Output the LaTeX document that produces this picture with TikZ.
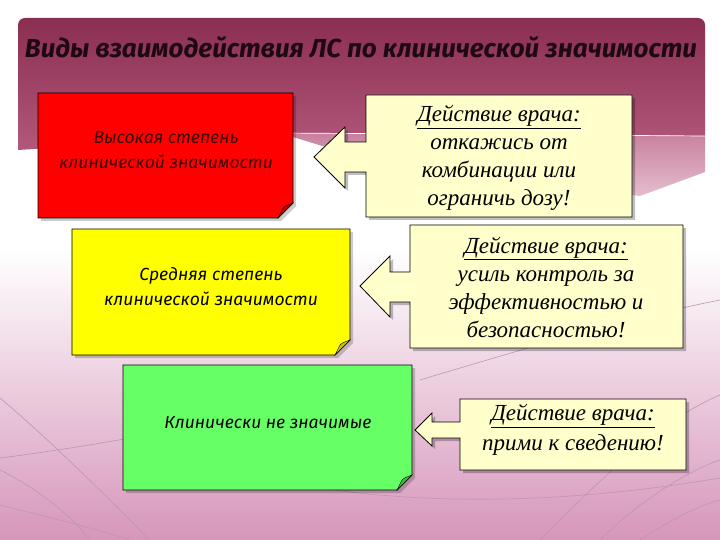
\documentclass[tikz,border=0pt]{standalone}
\usepackage{fontspec}
\setmainfont{Liberation Serif}
\newfontfamily\sansf{Fira Sans}
\usetikzlibrary{calc}
\definecolor{maroonA}{RGB}{138,46,82}
\definecolor{maroonB}{RGB}{178,88,122}
\definecolor{faceA}{RGB}{200,128,158}
\definecolor{faceB}{RGB}{228,190,206}
\definecolor{bgpink}{RGB}{214,150,186}
\definecolor{curveC}{RGB}{190,150,175}
\definecolor{calloutfill}{RGB}{255,255,204}
\definecolor{redbox}{RGB}{255,0,0}
\definecolor{redfold}{RGB}{190,0,0}
\definecolor{yelbox}{RGB}{255,255,0}
\definecolor{yelfold}{RGB}{200,200,0}
\definecolor{grnbox}{RGB}{102,255,102}
\definecolor{grnfold}{RGB}{60,190,60}
\definecolor{titlecol}{RGB}{30,8,18}
\tikzset{
  calloutshape/.style={fill=calloutfill, draw=black, line width=0.8pt, line join=miter},
  calloutshadow/.style={fill=black, opacity=0.25},
  ctext/.style={align=center, font=\itshape\fontsize{23}{28}\selectfont, text=black, inner sep=0pt},
  btext/.style={align=center, font=\sansf\itshape\fontsize{17.5}{25}\selectfont, inner sep=0pt},
  titletext/.style={font=\sansf\bfseries\itshape\fontsize{26}{28}\selectfont, text=titlecol, inner sep=0pt},
  bgcurve/.style={draw=curveC, line width=0.6pt},
}
\newcommand\notebox[6]{%
  \fill[black, opacity=0.2] (#1+3,#2+3) -- (#3+3,#2+3) -- (#3+3,#4+3-15) -- (#3+3-15,#4+3) -- (#1+3,#4+3) -- cycle;
  \filldraw[fill=#5, draw=black, line width=0.8pt] (#1,#2) -- (#3,#2) -- (#3,#4-15) -- (#3-15,#4) -- (#1,#4) -- cycle;
  \filldraw[fill=#6, draw=black, line width=0.4pt] (#3,#4-15) .. controls (#3-5,#4-13) and (#3-10,#4-12) .. (#3-11,#4-8) -- (#3-15,#4) -- cycle;
}
\newcommand\calloutA{(366,95) -- (632,95) -- (632,217) -- (366,217) -- (366,172) -- (345,172) -- (345,188) -- (314,157) -- (345,127) -- (345,142) -- (366,142) -- cycle}
\newcommand\calloutB{(410,225) -- (683,225) -- (683,348) -- (410,348) -- (410,302) -- (390,302) -- (390,317) -- (360,286) -- (390,256) -- (390,272) -- (410,272) -- cycle}
\newcommand\calloutC{(460,399) -- (686,399) -- (686,470) -- (460,470) -- (460,438) -- (432,438) -- (432,446) -- (415,430) -- (432,413) -- (432,422) -- (460,422) -- cycle}
\begin{document}
\begin{tikzpicture}[x=1pt,y=-1pt]
\useasboundingbox (0,0) rectangle (720,540);
% background
\fill[white] (0,0) rectangle (720,540);
\shade[top color=white, bottom color=bgpink] (0,250) rectangle (720,540);
% background curves
\draw[bgcurve] (0,458) .. controls (80,448) and (180,430) .. (300,405);
\draw[bgcurve] (0,398) .. controls (50,440) and (110,500) .. (150,540);
\draw[bgcurve] (0,470) .. controls (40,490) and (70,515) .. (90,540);
\draw[bgcurve] (0,505) .. controls (60,520) and (100,530) .. (130,540);
\draw[bgcurve] (300,485) .. controls (420,505) and (560,505) .. (720,478);
\draw[bgcurve] (540,540) .. controls (600,480) and (660,420) .. (720,395);
\draw[bgcurve] (600,540) .. controls (640,500) and (690,470) .. (720,460);
\draw[bgcurve] (420,380) .. controls (520,350) and (620,320) .. (720,300);
\draw[bgcurve] (640,540) .. controls (670,520) and (700,505) .. (720,500);
% title panel
\shade[top color=maroonA, bottom color=maroonB] (18,150) [rounded corners=7pt] -- (18,18) -- (705,18) [sharp corners] -- (705,136) -- (280,133) -- cycle;
\shade[top color=faceA, bottom color=faceB] (280,133) -- (705,136) -- (705,172) -- (640,196) -- (345,153) -- cycle;
\draw[white, line width=0.7pt] (280,133) -- (705,136);
\node[titletext] (title) at (361,47) {Виды взаимодействия ЛС по клинической значимости};
% sticky boxes
\notebox{38}{93}{293}{218}{redbox}{redfold}
\notebox{72}{229}{350}{355}{yelbox}{yelfold}
\notebox{123}{365}{412}{490}{grnbox}{grnfold}
\node[btext, text={rgb,255:red,60;green,0;blue,0}] (high) at (166,150) {Высокая степень\\клинической значимости};
\node[btext, text=black] (mid) at (211,287) {Средняя степень\\клинической значимости};
\node[btext, text=black] (none) at (268,422) {Клинически не значимые};
% callouts
\fill[calloutshadow, shift={(3,3)}] \calloutA;
\filldraw[calloutshape] \calloutA;
\fill[calloutshadow, shift={(3,3)}] \calloutB;
\filldraw[calloutshape] \calloutB;
\fill[calloutshadow, shift={(3,3)}] \calloutC;
\filldraw[calloutshape] \calloutC;
\node[ctext] (actA) at (499,158) {\underline{Действие врача:}\\откажись от\\комбинации или\\ограничь дозу!};
\node[ctext] (actB) at (546,287) {\underline{Действие врача:}\\усиль контроль за\\эффективностью и\\безопасностью!};
\node[ctext, font=\itshape\fontsize{23}{30}\selectfont] (actC) at (573,430) {\underline{Действие врача:}\\прими к сведению!};
\end{tikzpicture}
\end{document}
